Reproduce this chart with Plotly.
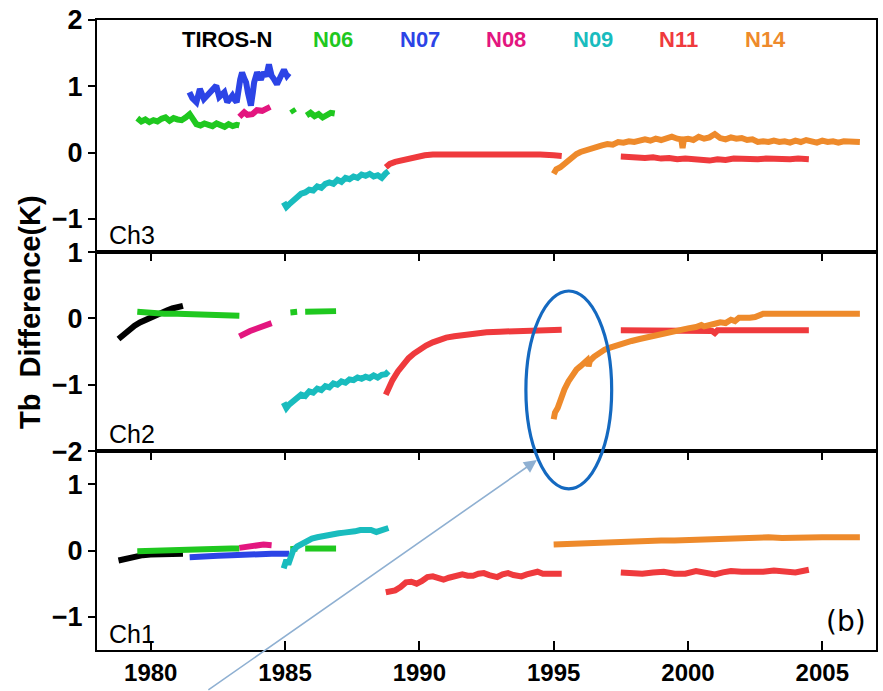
import plotly.graph_objects as go

# ---------------- data (year, Tb difference K) ----------------
# Ch3 panel
ch3_n06_x = [1979.5, 1979.65, 1979.8, 1979.95, 1980.1, 1980.25, 1980.4, 1980.55, 1980.7, 1980.85, 1981.0, 1981.15, 1981.3, 1981.45, 1981.55, 1981.7, 1981.85, 1982.0, 1982.15, 1982.3, 1982.45, 1982.6, 1982.75, 1982.9, 1983.05, 1983.2, 1983.3,
             None, 1985.25, 1985.35, None,
             1985.8, 1985.95, 1986.1, 1986.25, 1986.4, 1986.55, 1986.7, 1986.85]
ch3_n06_y = [0.52, 0.47, 0.50, 0.46, 0.49, 0.47, 0.51, 0.53, 0.48, 0.52, 0.50, 0.49, 0.53, 0.58, 0.52, 0.43, 0.41, 0.44, 0.42, 0.40, 0.44, 0.41, 0.39, 0.43, 0.40, 0.42, 0.41,
             None, 0.66, 0.60, None,
             0.56, 0.60, 0.55, 0.58, 0.53, 0.57, 0.60, 0.59]
ch3_n07_x = [1981.44, 1981.55, 1981.7, 1981.83, 1981.98, 1982.1, 1982.2, 1982.32, 1982.44, 1982.55, 1982.65, 1982.74, 1982.85, 1982.95, 1983.04, 1983.12, 1983.2, 1983.33, 1983.4, 1983.48, 1983.55, 1983.62, 1983.67, 1983.73, 1983.8, 1983.85, 1983.96, 1984.1, 1984.2, 1984.3, 1984.4, 1984.5, 1984.6, 1984.7, 1984.85, 1984.96, 1985.07, 1985.15]
ch3_n07_y = [0.91, 0.82, 0.76, 0.96, 0.81, 0.86, 0.88, 0.95, 1.01, 0.84, 0.88, 0.91, 0.76, 0.82, 0.86, 0.80, 0.76, 1.10, 1.21, 1.12, 1.06, 0.90, 0.76, 0.71, 0.90, 1.06, 1.21, 1.10, 1.21, 1.15, 1.33, 1.16, 1.10, 1.03, 1.16, 1.25, 1.16, 1.20]
ch3_n08_x = [1983.3, 1983.48, 1983.6, 1983.78, 1983.95, 1984.15, 1984.3, 1984.45]
ch3_n08_y = [0.54, 0.61, 0.57, 0.58, 0.64, 0.63, 0.66, 0.69]
ch3_n09_x = [1984.95, 1985.05, 1985.15, 1985.3, 1985.45, 1985.6, 1985.75, 1985.9, 1986.05, 1986.2, 1986.35, 1986.5, 1986.65, 1986.8, 1986.95, 1987.1, 1987.25, 1987.4, 1987.55, 1987.7, 1987.85, 1988.0, 1988.15, 1988.3, 1988.45, 1988.6, 1988.75, 1988.85]
ch3_n09_y = [-0.75, -0.82, -0.78, -0.72, -0.68, -0.62, -0.60, -0.56, -0.57, -0.51, -0.53, -0.47, -0.45, -0.47, -0.41, -0.44, -0.38, -0.40, -0.36, -0.38, -0.33, -0.35, -0.32, -0.36, -0.34, -0.38, -0.31, -0.28]
ch3_n11_x = [1988.75, 1988.9, 1989.1, 1989.3, 1989.5, 1989.7, 1989.9, 1990.2, 1990.5, 1990.8, 1991.1, 1991.5, 1992.0, 1992.5, 1993.0, 1993.5, 1994.0, 1994.5, 1995.0, 1995.3,
             None,
             1997.5, 1997.8, 1998.1, 1998.4, 1998.7, 1999.0, 1999.3, 1999.6, 1999.9, 2000.2, 2000.5, 2000.8, 2001.1, 2001.4, 2001.7, 2002.0, 2002.3, 2002.6, 2002.9, 2003.2, 2003.5, 2003.8, 2004.1, 2004.5]
ch3_n11_y = [-0.22, -0.17, -0.14, -0.12, -0.10, -0.07, -0.06, -0.04, -0.03, -0.03, -0.02, -0.02, -0.01, -0.01, -0.01, -0.02, -0.02, -0.03, -0.04, -0.05,
             None,
             -0.06, -0.07, -0.07, -0.08, -0.07, -0.09, -0.08, -0.10, -0.09, -0.10, -0.09, -0.12, -0.10, -0.11, -0.09, -0.10, -0.09, -0.10, -0.09, -0.10, -0.09, -0.10, -0.09, -0.10]
ch3_n14_x = [1995.0, 1995.1, 1995.25, 1995.4, 1995.55, 1995.7, 1995.85, 1996.0, 1996.2, 1996.4, 1996.6, 1996.8, 1997.0, 1997.2, 1997.4, 1997.6, 1997.8, 1998.0, 1998.2, 1998.4, 1998.6, 1998.8, 1999.0, 1999.2, 1999.4, 1999.6, 1999.75, 1999.8, 1999.85, 2000.0, 2000.2, 2000.4, 2000.6, 2000.8, 2001.0, 2001.2, 2001.4, 2001.6, 2001.8, 2002.0, 2002.2, 2002.4, 2002.6, 2002.8, 2003.0, 2003.2, 2003.4, 2003.6, 2003.8, 2004.0, 2004.2, 2004.4, 2004.6, 2004.8, 2005.0, 2005.2, 2005.4, 2005.6, 2005.8, 2006.0, 2006.2, 2006.4]
ch3_n14_y = [-0.32, -0.25, -0.22, -0.17, -0.12, -0.06, -0.02, 0.01, 0.04, 0.07, 0.09, 0.11, 0.13, 0.12, 0.16, 0.15, 0.17, 0.16, 0.18, 0.20, 0.18, 0.21, 0.19, 0.22, 0.24, 0.21, 0.20, 0.07, 0.20, 0.21, 0.19, 0.24, 0.21, 0.23, 0.28, 0.22, 0.20, 0.23, 0.21, 0.22, 0.19, 0.20, 0.16, 0.17, 0.16, 0.18, 0.16, 0.17, 0.15, 0.18, 0.16, 0.19, 0.17, 0.15, 0.18, 0.16, 0.17, 0.15, 0.17, 0.16, 0.17, 0.16]

# Ch2 panel
ch2_tiros_x = [1978.8, 1979.0, 1979.2, 1979.4, 1979.6, 1979.8, 1980.0, 1980.2, 1980.4, 1980.6, 1980.8, 1981.0, 1981.2]
ch2_tiros_y = [-0.31, -0.24, -0.17, -0.11, -0.06, -0.02, 0.02, 0.06, 0.09, 0.12, 0.15, 0.17, 0.19]
ch2_n06_x = [1979.5, 1980.0, 1980.5, 1981.0, 1981.5, 1982.0, 1982.5, 1983.0, 1983.3,
             None, 1985.2, 1985.45, None,
             1985.75, 1986.2, 1986.6, 1986.9]
ch2_n06_y = [0.10, 0.08, 0.07, 0.07, 0.06, 0.06, 0.05, 0.05, 0.04,
             None, 0.09, 0.10, None,
             0.10, 0.10, 0.11, 0.11]
ch2_n08_x = [1983.3, 1983.5, 1983.7, 1983.9, 1984.1, 1984.3, 1984.5]
ch2_n08_y = [-0.27, -0.22, -0.19, -0.16, -0.13, -0.10, -0.07]
ch2_n09_x = [1984.95, 1985.05, 1985.15, 1985.3, 1985.45, 1985.6, 1985.75, 1985.9, 1986.05, 1986.2, 1986.35, 1986.5, 1986.65, 1986.8, 1986.95, 1987.1, 1987.25, 1987.4, 1987.55, 1987.7, 1987.85, 1988.0, 1988.15, 1988.3, 1988.45, 1988.6, 1988.75, 1988.85]
ch2_n09_y = [-1.27, -1.35, -1.30, -1.25, -1.22, -1.15, -1.17, -1.10, -1.12, -1.06, -1.08, -1.02, -1.04, -0.98, -1.00, -0.95, -0.97, -0.92, -0.93, -0.89, -0.91, -0.88, -0.90, -0.86, -0.89, -0.85, -0.84, -0.80]
ch2_n11_x = [1988.75, 1988.85, 1989.0, 1989.2, 1989.4, 1989.6, 1989.8, 1990.0, 1990.25, 1990.5, 1990.75, 1991.0, 1991.3, 1991.6, 1992.0, 1992.5, 1993.0, 1993.5, 1994.0, 1994.5, 1995.0, 1995.3,
             None,
             1997.5, 1998.0, 1998.5, 1999.0, 1999.5, 2000.0, 2000.5, 2000.9, 2001.0, 2001.1, 2001.5, 2002.0, 2002.5, 2003.0, 2003.5, 2004.0, 2004.5]
ch2_n11_y = [-1.15, -1.05, -0.93, -0.80, -0.68, -0.60, -0.53, -0.47, -0.41, -0.36, -0.32, -0.29, -0.27, -0.25, -0.23, -0.21, -0.20, -0.19, -0.19, -0.18, -0.18, -0.17,
             None,
             -0.18, -0.18, -0.19, -0.18, -0.18, -0.19, -0.18, -0.19, -0.22, -0.18, -0.18, -0.19, -0.18, -0.18, -0.19, -0.18, -0.18]
ch2_n14_x = [1995.0, 1995.05, 1995.15, 1995.25, 1995.4, 1995.55, 1995.7, 1995.85, 1996.0, 1996.15, 1996.25, 1996.3, 1996.35, 1996.5, 1996.7, 1996.9, 1997.1, 1997.3, 1997.6, 1997.9, 1998.2, 1998.5, 1998.8, 1999.1, 1999.4, 1999.7, 2000.0, 2000.3, 2000.5, 2000.6, 2000.8, 2001.0, 2001.2, 2001.4, 2001.6, 2001.75, 2001.9, 2002.1, 2002.3, 2002.5, 2002.7, 2002.8, 2003.2, 2003.6, 2004.0, 2004.4, 2004.8, 2005.2, 2005.6, 2006.0, 2006.4]
ch2_n14_y = [-1.52, -1.42, -1.35, -1.22, -1.07, -0.95, -0.85, -0.77, -0.72, -0.66, -0.63, -0.72, -0.64, -0.58, -0.51, -0.47, -0.44, -0.41, -0.38, -0.34, -0.31, -0.28, -0.25, -0.22, -0.20, -0.17, -0.15, -0.13, -0.10, -0.12, -0.09, -0.08, -0.06, -0.07, -0.02, -0.04, 0.01, 0.00, 0.01, 0.02, 0.05, 0.07, 0.07, 0.07, 0.07, 0.07, 0.07, 0.07, 0.07, 0.07, 0.07]

# Ch1 panel
ch1_tiros_x = [1978.8, 1979.0, 1979.2, 1979.4, 1979.7, 1980.0, 1980.5, 1981.0, 1981.2]
ch1_tiros_y = [-0.15, -0.13, -0.10, -0.08, -0.07, -0.06, -0.06, -0.05, -0.05]
ch1_n06_x = [1979.5, 1980.0, 1981.0, 1982.0, 1983.0, 1983.3,
             None, 1985.2, 1985.45, None,
             1985.75, 1986.3, 1986.9]
ch1_n06_y = [-0.01, 0.00, 0.01, 0.02, 0.03, 0.03,
             None, 0.02, 0.03, None,
             0.03, 0.03, 0.03]
ch1_n07_x = [1981.45, 1981.7, 1982.0, 1982.5, 1983.0, 1983.5, 1984.0, 1984.5, 1985.15]
ch1_n07_y = [-0.10, -0.10, -0.09, -0.08, -0.07, -0.06, -0.06, -0.05, -0.05]
ch1_n08_x = [1983.3, 1983.6, 1983.9, 1984.2, 1984.5]
ch1_n08_y = [0.04, 0.06, 0.08, 0.09, 0.08]
ch1_n09_x = [1984.95, 1985.0, 1985.05, 1985.12, 1985.2, 1985.3, 1985.45, 1985.6, 1985.8, 1986.0, 1986.2, 1986.4, 1986.6, 1986.8, 1987.0, 1987.2, 1987.4, 1987.6, 1987.8, 1988.0, 1988.2, 1988.4, 1988.6, 1988.85]
ch1_n09_y = [-0.27, -0.18, -0.14, -0.21, -0.10, 0.00, 0.06, 0.10, 0.14, 0.18, 0.20, 0.22, 0.24, 0.25, 0.26, 0.27, 0.27, 0.29, 0.31, 0.32, 0.31, 0.28, 0.31, 0.34]
ch1_n11_x = [1988.75, 1988.9, 1989.1, 1989.3, 1989.5, 1989.7, 1989.9, 1990.1, 1990.3, 1990.5, 1990.7, 1990.9, 1991.1, 1991.4, 1991.6, 1991.8, 1992.0, 1992.2, 1992.4, 1992.6, 1992.9, 1993.1, 1993.3, 1993.5, 1993.8, 1994.0, 1994.2, 1994.4, 1994.6, 1994.9, 1995.1, 1995.3,
             None,
             1997.5, 1997.9, 1998.3, 1998.7, 1999.1, 1999.5, 1999.9, 2000.3, 2000.7, 2001.0, 2001.3, 2001.6, 2002.0, 2002.4, 2002.8, 2003.2, 2003.6, 2004.0, 2004.5]
ch1_n11_y = [-0.63, -0.62, -0.60, -0.55, -0.48, -0.47, -0.50, -0.46, -0.40, -0.39, -0.42, -0.44, -0.41, -0.37, -0.36, -0.38, -0.38, -0.35, -0.34, -0.37, -0.40, -0.36, -0.34, -0.37, -0.39, -0.36, -0.33, -0.32, -0.35, -0.36, -0.35, -0.35,
             None,
             -0.33, -0.35, -0.35, -0.33, -0.32, -0.35, -0.35, -0.31, -0.33, -0.36, -0.33, -0.31, -0.32, -0.33, -0.32, -0.30, -0.31, -0.33, -0.29]
ch1_n14_x = [1995.0, 1995.5, 1996.0, 1996.5, 1997.0, 1997.5, 1998.0, 1998.5, 1999.0, 1999.5, 2000.0, 2000.5, 2001.0, 2001.5, 2002.0, 2002.5, 2003.0, 2003.5, 2004.0, 2004.5, 2005.0, 2005.5, 2006.0, 2006.4]
ch1_n14_y = [0.09, 0.10, 0.11, 0.12, 0.12, 0.13, 0.14, 0.14, 0.15, 0.15, 0.16, 0.17, 0.18, 0.19, 0.19, 0.19, 0.20, 0.19, 0.20, 0.19, 0.20, 0.20, 0.21, 0.20]

satellites = ["TIROS-N", "N06", "N07", "N08", "N09", "N11", "N14"]
sat_colors = {"TIROS-N": "#000000", "N06": "#1fc81f", "N07": "#2c44e6", "N08": "#e3167f",
              "N09": "#19bcbe", "N11": "#ef3a3d", "N14": "#ee8a2b"}
legend_year = [1982.85, 1986.78, 1990.02, 1993.24, 1996.46, 1999.63, 2002.9]

panels = {
    "y3": [("N06", ch3_n06_x, ch3_n06_y), ("N07", ch3_n07_x, ch3_n07_y), ("N08", ch3_n08_x, ch3_n08_y),
           ("N09", ch3_n09_x, ch3_n09_y), ("N11", ch3_n11_x, ch3_n11_y), ("N14", ch3_n14_x, ch3_n14_y)],
    "y2": [("TIROS-N", ch2_tiros_x, ch2_tiros_y), ("N06", ch2_n06_x, ch2_n06_y), ("N08", ch2_n08_x, ch2_n08_y),
           ("N09", ch2_n09_x, ch2_n09_y), ("N11", ch2_n11_x, ch2_n11_y), ("N14", ch2_n14_x, ch2_n14_y)],
    "y": [("TIROS-N", ch1_tiros_x, ch1_tiros_y), ("N06", ch1_n06_x, ch1_n06_y), ("N07", ch1_n07_x, ch1_n07_y),
          ("N08", ch1_n08_x, ch1_n08_y), ("N09", ch1_n09_x, ch1_n09_y), ("N11", ch1_n11_x, ch1_n11_y),
          ("N14", ch1_n14_x, ch1_n14_y)],
}
xref_of = {"y": "x", "y2": "x2", "y3": "x3"}

fig = go.Figure()
for yk, series in panels.items():
    for name, xs, ys in series:
        fig.add_trace(go.Scatter(x=xs, y=ys, mode="lines", name=name, showlegend=False,
                                 xaxis=xref_of[yk], yaxis=yk, connectgaps=False,
                                 line=dict(color=sat_colors[name], width=6)))

W, H = 883, 691
ml, mr, mt, mb = 97, 5, 16, 38
tot = 9.5
d1 = 3 / tot
d2 = 6 / tot

SANS = "Liberation Sans, Arial, Helvetica, sans-serif"
tickfont_y = dict(family=SANS, size=27, color="black", weight="bold")
tickfont_x = dict(family=SANS, size=24, color="black", weight="bold")
xcommon = dict(range=[1978, 2007], showgrid=False, zeroline=False, showline=True, linecolor="black",
               linewidth=2, tickvals=[1980, 1985, 1990, 1995, 2000, 2005], ticklen=9, tickwidth=2,
               tickcolor="black")
ycommon = dict(showgrid=False, zeroline=False, showline=True, linecolor="black", linewidth=2, mirror=True,
               ticks="outside", ticklen=7, tickwidth=2, tickcolor="black", tickfont=tickfont_y)

fig.update_layout(
    width=W, height=H, margin=dict(l=ml, r=mr, t=mt, b=mb),
    paper_bgcolor="white", plot_bgcolor="white",
    xaxis=dict(**xcommon, anchor="y", ticks="inside", mirror="ticks", tickfont=tickfont_x,
               ticktext=["1980", "1985", "1990", "1995", "2000", "2005"]),
    xaxis2=dict(**xcommon, anchor="y2", side="top", ticks="inside", mirror=True, showticklabels=False),
    xaxis3=dict(**xcommon, anchor="y3", ticks="", mirror=True, showticklabels=False),
    yaxis=dict(**ycommon, domain=[0, d1], range=[-1.5, 1.5], tickvals=[-1, 0, 1], anchor="x"),
    yaxis2=dict(**ycommon, domain=[d1, d2], range=[-2, 1], tickvals=[-2, -1, 0, 1], anchor="x2"),
    yaxis3=dict(**ycommon, domain=[d2, 1], range=[-1.5, 2], tickvals=[-1, 0, 1, 2], anchor="x3"),
)

ann = []
# satellite labels (legend)
for name, xv in zip(satellites, legend_year):
    ann.append(dict(x=xv, y=1.71, xref="x3", yref="y3", text=name, showarrow=False,
                    xanchor="center", yanchor="middle",
                    font=dict(family=SANS, size=22, color=sat_colors[name], weight="bold")))
# panel labels
for txt, xr, yr, yy in [("Ch3", "x3 domain", "y3 domain", 0.075), ("Ch2", "x2 domain", "y2 domain", 0.085),
                        ("Ch1", "x domain", "y domain", 0.08)]:
    ann.append(dict(x=0.013, y=yy, xref=xr, yref=yr, text=txt, showarrow=False,
                    xanchor="left", yanchor="middle",
                    font=dict(family=SANS, size=25, color="black")))
ann.append(dict(x=0.961, y=0.145, xref="x domain", yref="y domain", text="(b)", showarrow=False,
                xanchor="center", yanchor="middle",
                font=dict(family="DejaVu Sans, sans-serif", size=28, color="black")))
# y-axis title
pw, ph = W - ml - mr, H - mt - mb
ann.append(dict(x=(30 - ml) / pw, y=(H - mb - 311) / ph, xref="paper", yref="paper",
                xanchor="center", yanchor="middle",
                text="Tb\u00a0\u00a0Difference(K)", textangle=-90, showarrow=False,
                font=dict(family=SANS, size=29, color="black", weight="bold")))
# arrow pointing at the N14 Ch2 start
ann.append(dict(x=(538 - ml) / pw, y=(H - mb - 461) / ph, xref="paper", yref="paper", text="",
                showarrow=True, ax=-330, ay=243, arrowhead=2, arrowsize=1.6, arrowwidth=1.6,
                arrowcolor="#8fb0d2"))
fig.update_layout(annotations=ann)

# ellipse highlight
fig.add_shape(type="circle", xref="paper", yref="paper",
              x0=(527 - ml) / pw, x1=(613 - ml) / pw,
              y0=(H - mb - 490) / ph, y1=(H - mb - 290) / ph,
              line=dict(color="#1469c0", width=3.2))

fig.write_html("out.html")
